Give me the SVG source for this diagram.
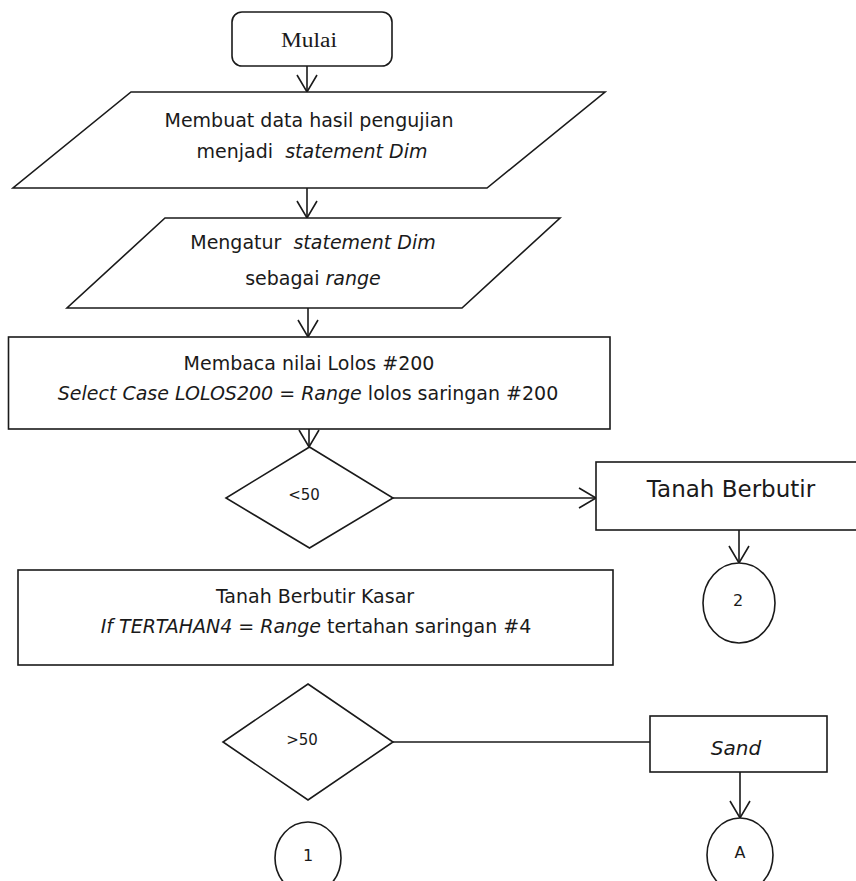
<svg xmlns="http://www.w3.org/2000/svg" width="856" height="881" viewBox="0 0 856 881">
<defs>
<style>
.s{fill:#fff;stroke:#1a1a1a;stroke-width:1.6}
.c{fill:none;stroke:#1a1a1a;stroke-width:1.6}
.t{font-family:"DejaVu Sans","Liberation Sans",sans-serif;font-size:19px;fill:#1a1a1a;text-anchor:middle}
.i{font-style:italic}
.m{font-family:"Liberation Serif","Times New Roman",serif;font-size:20px;fill:#1a1a1a;text-anchor:middle}
</style>
<marker id="ah" markerUnits="userSpaceOnUse" markerWidth="24" markerHeight="24" viewBox="-20 -12 24 24" refX="0" refY="0" orient="auto" overflow="visible">
<path d="M-17,-10 L0,0 L-17,10" fill="none" stroke="#1a1a1a" stroke-width="1.6"/>
</marker>
</defs>
<rect width="856" height="881" fill="#fff"/>

<g id="connectors">
<line class="c" x1="307" y1="66" x2="307" y2="92" marker-end="url(#ah)"/>
<line class="c" x1="307" y1="188" x2="307" y2="218" marker-end="url(#ah)"/>
<line class="c" x1="308" y1="308" x2="308" y2="337" marker-end="url(#ah)"/>
<line class="c" x1="309" y1="429" x2="309" y2="447" marker-end="url(#ah)"/>
<line class="c" x1="393" y1="498" x2="596" y2="498" marker-end="url(#ah)"/>
<line class="c" x1="739" y1="530" x2="739" y2="563" marker-end="url(#ah)"/>
<line class="c" x1="393" y1="742" x2="650" y2="742"/>
<line class="c" x1="740" y1="772" x2="740" y2="818" marker-end="url(#ah)"/>
</g>

<g id="mulai">
<rect class="s" x="232" y="12" width="160" height="54" rx="10"/>
<text class="m" x="309" y="47" textLength="56" lengthAdjust="spacingAndGlyphs">Mulai</text>
</g>

<g id="membuat">
<polygon class="s" points="131,92 605,92 487,188 13,188"/>
<text class="t" x="309" y="127">Membuat data hasil pengujian</text>
<text class="t" x="312" y="158" xml:space="preserve">menjadi  <tspan class="i">statement Dim</tspan></text>
</g>

<g id="mengatur">
<polygon class="s" points="165,218 560,218 462,308 67,308"/>
<text class="t" x="313" y="249" xml:space="preserve">Mengatur  <tspan class="i">statement Dim</tspan></text>
<text class="t" x="313" y="285">sebagai <tspan class="i">range</tspan></text>
</g>

<g id="membaca">
<rect class="s" x="8.5" y="337" width="601.5" height="92"/>
<text class="t" x="309" y="370">Membaca nilai Lolos #200</text>
<text class="t" x="308" y="400"><tspan class="i">Select Case LOLOS200 = Range</tspan> lolos saringan #200</text>
</g>

<g id="kurang50">
<polygon class="s" points="309.5,447 393,498 309.5,548 226,498"/>
<text class="t" x="304" y="500" style="font-size:15px">&lt;50</text>
</g>

<g id="tanah-berbutir">
<rect class="s" x="596" y="462" width="270" height="68"/>
<text class="t" x="731" y="497" style="font-size:23px">Tanah Berbutir</text>
</g>

<g id="konektor-2">
<ellipse class="s" cx="739" cy="603" rx="36" ry="40"/>
<text class="t" x="738" y="606" style="font-size:16px">2</text>
</g>

<g id="kasar">
<rect class="s" x="18" y="570" width="595" height="95"/>
<text class="t" x="315" y="603">Tanah Berbutir Kasar</text>
<text class="t" x="316" y="633"><tspan class="i">If TERTAHAN4 = Range</tspan> tertahan saringan #4</text>
</g>

<g id="lebih50">
<polygon class="s" points="308,684 393,742 308,800 223,742"/>
<text class="t" x="302" y="745" style="font-size:15px">&gt;50</text>
</g>

<g id="sand">
<rect class="s" x="650" y="716" width="177" height="56"/>
<text class="t i" x="736" y="755" style="font-size:20px">Sand</text>
</g>

<g id="konektor-1">
<ellipse class="s" cx="308" cy="858" rx="33" ry="36"/>
<text class="t" x="308" y="861" style="font-size:16px">1</text>
</g>

<g id="konektor-a">
<ellipse class="s" cx="740" cy="855" rx="33" ry="37"/>
<text class="t" x="740" y="858" style="font-size:16px">A</text>
</g>
</svg>
